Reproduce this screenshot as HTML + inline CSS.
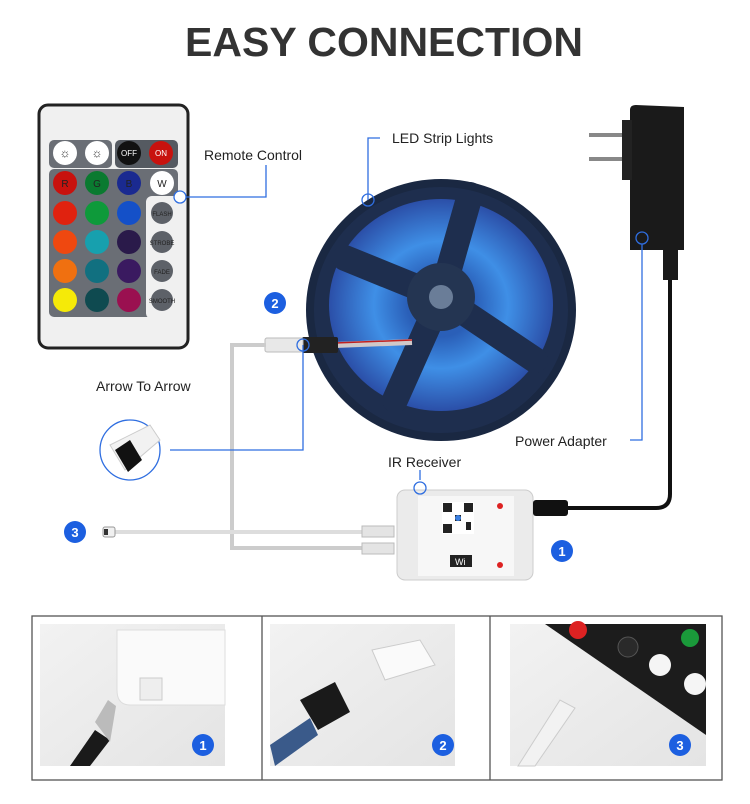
<!DOCTYPE html>
<html><head><meta charset="utf-8"><style>
body{margin:0;width:750px;height:804px;background:#fff;overflow:hidden;font-family:"Liberation Sans",sans-serif}
svg{display:block}
</style></head><body>
<svg width="750" height="804" viewBox="0 0 750 804" xmlns="http://www.w3.org/2000/svg" font-family="Liberation Sans, sans-serif">
<defs>
<radialGradient id="led" cx="50%" cy="50%" r="50%">
<stop offset="0.3" stop-color="#2a5fb8"/><stop offset="0.6" stop-color="#3f8fe6"/><stop offset="1" stop-color="#2b4fa8"/>
</radialGradient>
<linearGradient id="bg1" x1="0" y1="0" x2="1" y2="1"><stop offset="0" stop-color="#f2f2f2"/><stop offset="1" stop-color="#e4e4e4"/></linearGradient>
</defs>
<text x="384" y="56" text-anchor="middle" font-size="41" font-weight="bold" fill="#333">EASY CONNECTION</text>

<!-- remote -->
<rect x="39" y="105" width="149" height="243" rx="9" fill="#f0f0f0" stroke="#222" stroke-width="3"/>
<rect x="49" y="140" width="63" height="28" rx="5" fill="#6a6e75"/>
<rect x="115" y="140" width="63" height="28" rx="5" fill="#555a61"/>
<rect x="49" y="169" width="129" height="148" rx="5" fill="#6a6e75"/>
<rect x="146" y="196" width="34" height="123" rx="6" fill="#f0f0f0"/>
<g stroke="none">
<circle cx="65" cy="153" r="12" fill="#fff"/><circle cx="97" cy="153" r="12" fill="#fff"/>
<circle cx="129" cy="153" r="12" fill="#111"/><circle cx="161" cy="153" r="12" fill="#c8120e"/>
<circle cx="65" cy="183" r="12" fill="#c8120e"/><circle cx="97" cy="183" r="12" fill="#0a7a30"/><circle cx="129" cy="183" r="12" fill="#1a2a90"/><circle cx="162" cy="183" r="12" fill="#fff"/>
<circle cx="65" cy="213" r="12" fill="#e0220f"/><circle cx="97" cy="213" r="12" fill="#0e9a3a"/><circle cx="129" cy="213" r="12" fill="#1450c8"/>
<circle cx="65" cy="242" r="12" fill="#ef4810"/><circle cx="97" cy="242" r="12" fill="#17a0ae"/><circle cx="129" cy="242" r="12" fill="#2a1a4a"/>
<circle cx="65" cy="271" r="12" fill="#f07010"/><circle cx="97" cy="271" r="12" fill="#117080"/><circle cx="129" cy="271" r="12" fill="#3a1a60"/>
<circle cx="65" cy="300" r="12" fill="#f5ea08"/><circle cx="97" cy="300" r="12" fill="#0f4a50"/><circle cx="129" cy="300" r="12" fill="#9a1050"/>
<circle cx="162" cy="213" r="11" fill="#5d6168"/><circle cx="162" cy="242" r="11" fill="#5d6168"/><circle cx="162" cy="271" r="11" fill="#5d6168"/><circle cx="162" cy="300" r="11" fill="#5d6168"/>
</g>
<g font-size="8" text-anchor="middle" fill="#222">
<text x="129" y="156" fill="#fff">OFF</text><text x="161" y="156" fill="#fff">ON</text>
<text x="65" y="187" font-size="10">R</text><text x="97" y="187" font-size="10">G</text><text x="129" y="187" font-size="10">B</text><text x="162" y="187" font-size="10">W</text>
<text x="162" y="216" font-size="6">FLASH</text><text x="162" y="245" font-size="6">STROBE</text><text x="162" y="274" font-size="6">FADE</text><text x="162" y="303" font-size="6">SMOOTH</text>
<text x="65" y="157" font-size="12">☼</text><text x="97" y="157" font-size="12">☼</text>
</g>

<!-- reel -->
<ellipse cx="441" cy="310" rx="131" ry="127" fill="#1e2e4e"/>
<ellipse cx="441" cy="305" rx="112" ry="106" fill="url(#led)"/>
<g stroke="#1e2e4e" stroke-width="26" stroke-linecap="round">
<line x1="441" y1="297" x2="470" y2="195"/><line x1="441" y1="297" x2="345" y2="258"/>
<line x1="441" y1="297" x2="395" y2="400"/><line x1="441" y1="297" x2="535" y2="360"/>
</g>
<circle cx="441" cy="297" r="34" fill="#243552"/>
<circle cx="441" cy="297" r="12" fill="#6a7d98"/>
<ellipse cx="441" cy="310" rx="131" ry="127" fill="none" stroke="#1a2842" stroke-width="8"/>
<!-- strip cable -->
<path d="M335 345 L412 342" stroke="#d0c8c8" stroke-width="6"/>
<path d="M335 343 L412 340" stroke="#c02020" stroke-width="1.5"/>
<rect x="302" y="337" width="36" height="16" rx="2" fill="#222"/>
<rect x="265" y="338" width="38" height="14" rx="2" fill="#e8e8e8" stroke="#bbb"/>

<!-- wires -->
<path d="M266 345 H232 V548 H380" stroke="#ccc" stroke-width="4" fill="none"/>
<path d="M110 532 H380" stroke="#ddd" stroke-width="4" fill="none"/>
<rect x="103" y="527" width="12" height="10" rx="2" fill="#f0f0f0" stroke="#999"/>
<rect x="104" y="529" width="4" height="6" fill="#333"/>
<rect x="362" y="526" width="32" height="11" fill="#e4e4e4" stroke="#bbb"/>
<rect x="362" y="543" width="32" height="11" fill="#e4e4e4" stroke="#bbb"/>

<!-- controller -->
<rect x="397" y="490" width="136" height="90" rx="8" fill="#ebebeb" stroke="#ccc"/>
<rect x="418" y="496" width="96" height="80" fill="#f7f7f7"/>
<rect x="442" y="502" width="32" height="32" fill="#fff"/>
<g fill="#222"><rect x="443" y="503" width="9" height="9"/><rect x="464" y="503" width="9" height="9"/><rect x="443" y="524" width="9" height="9"/><rect x="455" y="515" width="6" height="6"/><rect x="466" y="522" width="5" height="8"/></g>
<circle cx="458" cy="518" r="3" fill="#3b7fe0"/>
<rect x="450" y="555" width="22" height="12" fill="#222"/>
<text x="455" y="565" font-size="9" fill="#fff">Wi</text>
<circle cx="500" cy="506" r="3" fill="#d22"/><circle cx="500" cy="565" r="3" fill="#d22"/>
<!-- DC plug & adapter cable -->
<rect x="533" y="500" width="35" height="16" rx="3" fill="#111"/>
<path d="M568 508 H656 Q670 508 670 494 V255" stroke="#111" stroke-width="4" fill="none"/>
<rect x="663" y="250" width="15" height="30" fill="#1a1a1a"/>
<!-- adapter -->
<path d="M630 110 Q630 105 636 105 L684 107 L684 250 L630 250 Z" fill="#1a1a1a"/>
<rect x="589" y="133" width="41" height="4" fill="#888"/><rect x="589" y="157" width="41" height="4" fill="#888"/>
<rect x="622" y="120" width="10" height="60" fill="#222"/>

<!-- callouts -->
<g stroke="#2f6ee0" stroke-width="1.3" fill="none">
<path d="M186 197 H266 V165"/><circle cx="180" cy="197" r="6" fill="#fff"/>
<path d="M368 200 V138 H380"/><circle cx="368" cy="200" r="6"/>
<path d="M303 345 V450 H170"/><circle cx="303" cy="345" r="6"/>
<path d="M642 244 V440 H630"/><circle cx="642" cy="238" r="6"/>
<path d="M420 480 V470"/><circle cx="420" cy="488" r="6"/>
</g>
<circle cx="130" cy="450" r="30" fill="#fff" stroke="#2f6ee0" stroke-width="1.3"/>
<path d="M110 445 L150 425 L160 440 L125 470 Z" fill="#f2f2f2" stroke="#ccc"/>
<path d="M115 450 L130 440 L142 460 L128 472 Z" fill="#111"/>
<g font-size="14" fill="#222">
<text x="204" y="160">Remote Control</text>
<text x="392" y="143">LED Strip Lights</text>
<text x="96" y="391">Arrow To Arrow</text>
<text x="515" y="446">Power Adapter</text>
<text x="388" y="467">IR Receiver</text>
</g>
<g font-size="13" font-weight="bold" fill="#fff" text-anchor="middle">
<circle cx="275" cy="303" r="11" fill="#1c5fe0"/><text x="275" y="308">2</text>
<circle cx="75" cy="532" r="11" fill="#1c5fe0"/><text x="75" y="537">3</text>
<circle cx="562" cy="551" r="11" fill="#1c5fe0"/><text x="562" y="556">1</text>
</g>

<!-- bottom panels -->
<rect x="32" y="616" width="690" height="164" fill="#fff" stroke="#555" stroke-width="1.3"/>
<line x1="262" y1="616" x2="262" y2="780" stroke="#555" stroke-width="1.3"/>
<line x1="490" y1="616" x2="490" y2="780" stroke="#555" stroke-width="1.3"/>
<rect x="40" y="624" width="185" height="142" fill="url(#bg1)"/>
<rect x="270" y="624" width="185" height="142" fill="url(#bg1)"/>
<rect x="510" y="624" width="196" height="142" fill="url(#bg1)"/>
<!-- p1 -->
<path d="M117 630 H225 V705 H130 Q117 705 117 690 Z" fill="#fafafa" stroke="#ddd"/>
<rect x="140" y="678" width="22" height="22" fill="#eee" stroke="#ccc"/>
<path d="M70 766 L95 730 L110 740 L90 766 Z" fill="#1a1a1a"/>
<path d="M95 722 L108 700 L116 706 L110 742 Z" fill="#bbb"/>
<!-- p2 -->
<path d="M372 650 L420 640 L435 665 L385 680 Z" fill="#fafafa" stroke="#ccc"/>
<path d="M300 700 L335 682 L350 712 L318 730 Z" fill="#1a1a1a"/>
<path d="M270 745 L310 718 L318 735 L275 766 Z" fill="#3a5a8a"/>
<!-- p3 -->
<path d="M545 624 H706 V735 Z" fill="#1c1c1c"/>
<circle cx="578" cy="630" r="9" fill="#d22"/><circle cx="628" cy="647" r="10" fill="#2a2a2a" stroke="#555"/>
<circle cx="660" cy="665" r="11" fill="#f5f5f5"/><circle cx="695" cy="684" r="11" fill="#f5f5f5"/><circle cx="690" cy="638" r="9" fill="#1a9a3a"/>
<path d="M518 766 L560 700 L575 708 L535 766 Z" fill="#f2f2f2" stroke="#ccc"/>
<g font-size="13" font-weight="bold" fill="#fff" text-anchor="middle">
<circle cx="203" cy="745" r="11" fill="#1c5fe0"/><text x="203" y="750">1</text>
<circle cx="443" cy="745" r="11" fill="#1c5fe0"/><text x="443" y="750">2</text>
<circle cx="680" cy="745" r="11" fill="#1c5fe0"/><text x="680" y="750">3</text>
</g>
</svg>
</body></html>
